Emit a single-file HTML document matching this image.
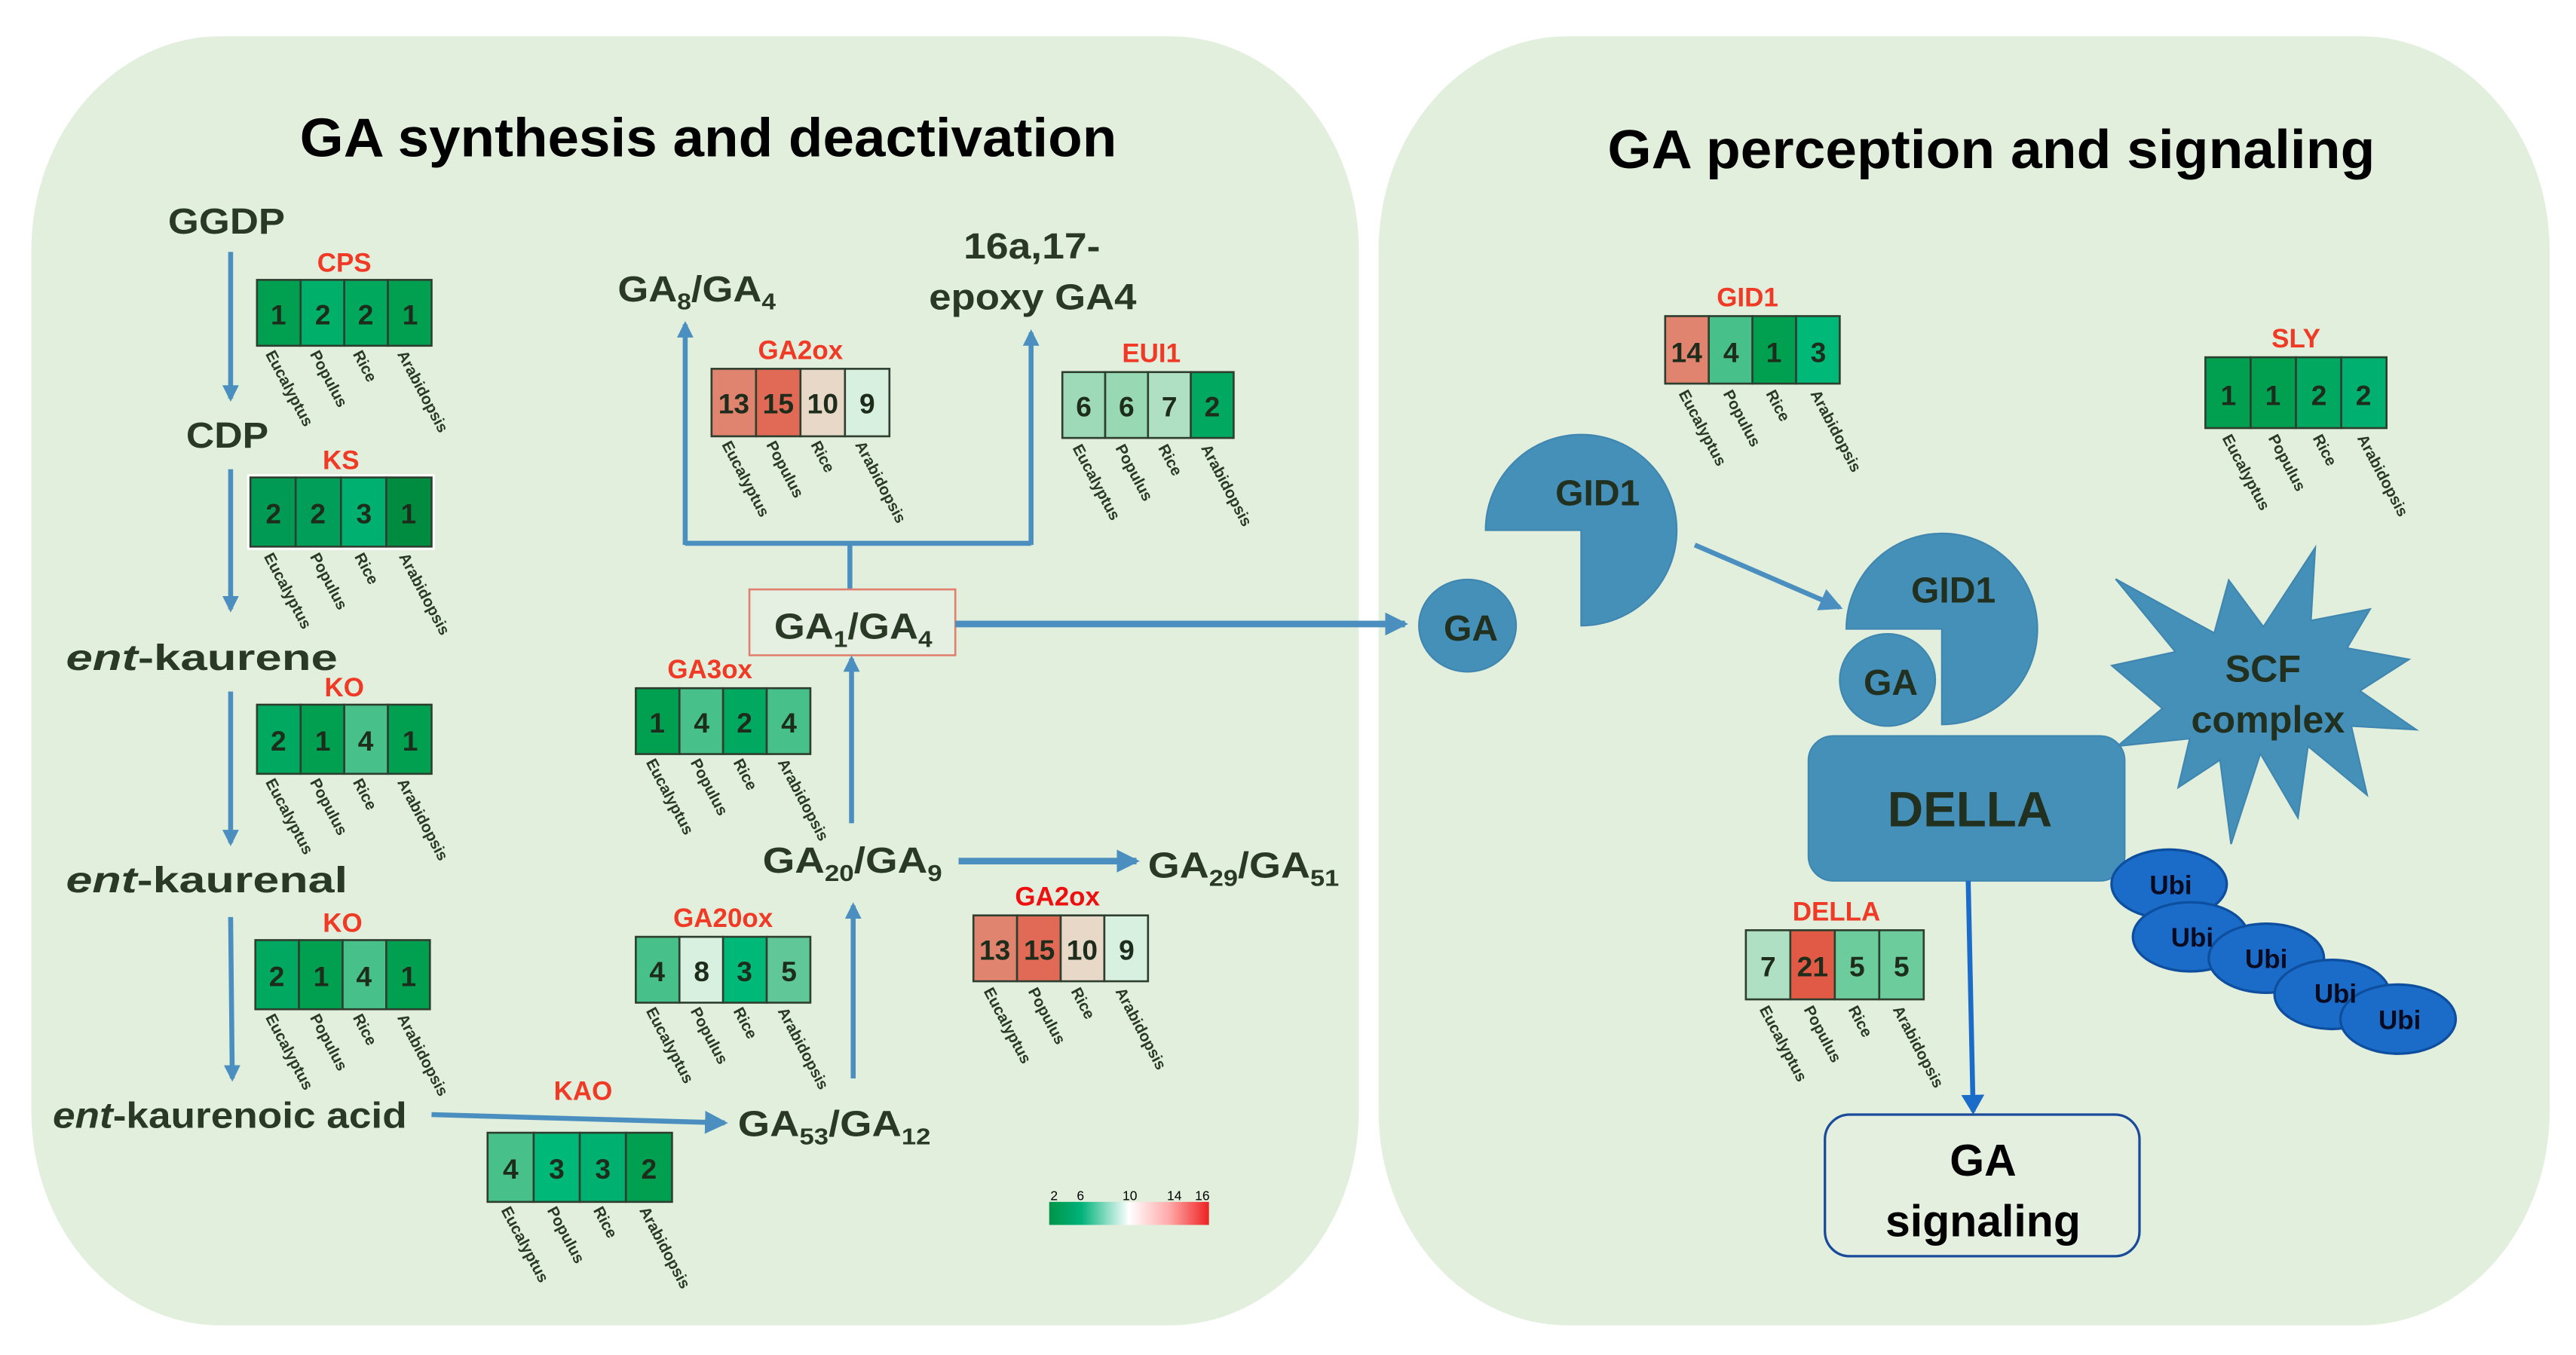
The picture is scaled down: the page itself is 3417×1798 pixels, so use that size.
<!DOCTYPE html>
<html><head><meta charset="utf-8"><style>
html,body{margin:0;padding:0;background:#fff}
svg{display:block}
text{font-family:"Liberation Sans",Arial,sans-serif}
.lbl{fill:#2a3826;font-size:22px;font-weight:bold}
.num{fill:#1e2c1c;font-size:17px;text-anchor:middle;font-weight:bold}
.sp{fill:#2a3826;font-size:9.5px;font-weight:bold}
.ttl{fill:#f03a26;font-size:16px;text-anchor:middle;font-weight:bold}
.cell{stroke:#2f3f2f;stroke-width:1.2}
.arr{stroke:#4a8fbf;stroke-width:3;fill:none}
.shape{fill:#4590b9;stroke:#3f86b0;stroke-width:1}
.stxt{fill:#22301f;font-weight:bold;text-anchor:middle}
</style></head><body>
<svg width="3417" height="1798" viewBox="0 0 1564 823" xmlns="http://www.w3.org/2000/svg">
<defs>
<marker id="ah" markerWidth="10" markerHeight="10" refX="8" refY="5" orient="auto" markerUnits="userSpaceOnUse"><path d="M0,0 L10,5 L0,10 Z" fill="#4a8fbf"/></marker>
<marker id="ah2" markerWidth="14" markerHeight="14" refX="12" refY="7" orient="auto" markerUnits="userSpaceOnUse"><path d="M0,0 L14,7 L0,14 Z" fill="#4a8fbf"/></marker>
<marker id="ahb" markerWidth="12" markerHeight="14" refX="10" refY="7" orient="auto" markerUnits="userSpaceOnUse"><path d="M0,0 L12,7 L0,14 Z" fill="#1a6cc8"/></marker>
<linearGradient id="lg" x1="0" x2="1" y1="0" y2="0">
<stop offset="0" stop-color="#009448"/><stop offset="0.2" stop-color="#00b27a"/><stop offset="0.5" stop-color="#ffffff"/><stop offset="0.75" stop-color="#ffaaaa"/><stop offset="1" stop-color="#ee2222"/></linearGradient>
</defs>

<rect x="19" y="22" width="806" height="783" rx="115" ry="130" fill="#e1efdc"/>
<rect x="837" y="22" width="711" height="783" rx="115" ry="130" fill="#e1efdc"/>

<text x="430" y="95" font-size="33" font-weight="bold" text-anchor="middle" fill="#000" textLength="496" lengthAdjust="spacingAndGlyphs">GA synthesis and deactivation</text>
<text x="1209" y="102" font-size="33" font-weight="bold" text-anchor="middle" fill="#000" textLength="466" lengthAdjust="spacingAndGlyphs">GA perception and signaling</text>

<text class="lbl" x="102" y="142" textLength="71" lengthAdjust="spacingAndGlyphs">GGDP</text>
<text class="lbl" x="113" y="272" textLength="50" lengthAdjust="spacingAndGlyphs">CDP</text>
<text class="lbl" x="40" y="407" textLength="165" lengthAdjust="spacingAndGlyphs"><tspan font-style="italic">ent</tspan>-kaurene</text>
<text class="lbl" x="40" y="542" textLength="171" lengthAdjust="spacingAndGlyphs"><tspan font-style="italic">ent</tspan>-kaurenal</text>
<text class="lbl" x="32" y="685" textLength="215" lengthAdjust="spacingAndGlyphs"><tspan font-style="italic">ent</tspan>-kaurenoic acid</text>

<line class="arr" x1="140" y1="153" x2="140" y2="242" marker-end="url(#ah)"/>
<line class="arr" x1="140" y1="285" x2="140" y2="370" marker-end="url(#ah)"/>
<line class="arr" x1="140" y1="420" x2="140" y2="512" marker-end="url(#ah)"/>
<line class="arr" x1="140" y1="557" x2="141" y2="655" marker-end="url(#ah)"/>
<line class="arr" x1="262" y1="677" x2="440" y2="682" stroke-width="4" marker-end="url(#ah2)"/>

<text class="lbl" x="375" y="183" textLength="96" lengthAdjust="spacingAndGlyphs">GA<tspan font-size="14" dy="5">8</tspan><tspan dy="-5">/GA</tspan><tspan font-size="14" dy="5">4</tspan></text>
<text class="lbl" x="585" y="157" textLength="83" lengthAdjust="spacingAndGlyphs">16a,17-</text>
<text class="lbl" x="564" y="188" textLength="126" lengthAdjust="spacingAndGlyphs">epoxy GA4</text>
<polyline class="arr" points="416,330 626,330"/>
<line class="arr" x1="416" y1="331" x2="416" y2="197" marker-end="url(#ah)"/>
<line class="arr" x1="626" y1="331" x2="626" y2="202" marker-end="url(#ah)"/>
<line class="arr" x1="516" y1="330" x2="516" y2="358"/>
<rect x="455" y="358" width="125" height="40" fill="#e6f0e2" stroke="#e08070" stroke-width="1.2"/>
<text class="lbl" x="470" y="388" textLength="96" lengthAdjust="spacingAndGlyphs">GA<tspan font-size="14" dy="5">1</tspan><tspan dy="-5">/GA</tspan><tspan font-size="14" dy="5">4</tspan></text>
<line x1="580" y1="379" x2="853" y2="379" stroke="#4a8fbf" stroke-width="4" marker-end="url(#ah2)"/>
<line class="arr" x1="517" y1="500" x2="517" y2="400" marker-end="url(#ah)"/>
<text class="lbl" x="463" y="530" textLength="109" lengthAdjust="spacingAndGlyphs">GA<tspan font-size="14" dy="5">20</tspan><tspan dy="-5">/GA</tspan><tspan font-size="14" dy="5">9</tspan></text>
<line x1="582" y1="523" x2="690" y2="523" stroke="#4a8fbf" stroke-width="4" marker-end="url(#ah2)"/>
<text class="lbl" x="697" y="533" textLength="116" lengthAdjust="spacingAndGlyphs">GA<tspan font-size="14" dy="5">29</tspan><tspan dy="-5">/GA</tspan><tspan font-size="14" dy="5">51</tspan></text>
<line class="arr" x1="518" y1="655" x2="518" y2="550" marker-end="url(#ah)"/>
<text class="lbl" x="448" y="690" textLength="117" lengthAdjust="spacingAndGlyphs">GA<tspan font-size="14" dy="5">53</tspan><tspan dy="-5">/GA</tspan><tspan font-size="14" dy="5">12</tspan></text>

<rect x="637" y="730" width="97" height="14" fill="url(#lg)"/>
<g font-size="8" fill="#000" text-anchor="middle">
<text x="640" y="729">2</text><text x="656" y="729">6</text><text x="686" y="729">10</text><text x="713" y="729">14</text><text x="730" y="729">16</text></g>

<g transform="translate(156,170)">
<text class="ttl" x="53" y="-5">CPS</text>
<rect class="cell" x="0" y="0" width="26.5" height="40" fill="#00a050"/><rect class="cell" x="26.5" y="0" width="26.5" height="40" fill="#00b06a"/><rect class="cell" x="53" y="0" width="26.5" height="40" fill="#00a85e"/><rect class="cell" x="79.5" y="0" width="26.5" height="40" fill="#00a050"/>
<text class="num" x="13" y="27">1</text><text class="num" x="40" y="27">2</text><text class="num" x="66" y="27">2</text><text class="num" x="93" y="27">1</text>
<text class="sp" transform="translate(5,45) rotate(62)">Eucalyptus</text><text class="sp" transform="translate(32,45) rotate(62)">Populus</text><text class="sp" transform="translate(58,45) rotate(62)">Rice</text><text class="sp" transform="translate(85,45) rotate(62)">Arabidopsis</text>
</g>
<g transform="translate(152,290)">
<text class="ttl" x="55" y="-5">KS</text>
<rect x="-2" y="-2" width="114" height="46" fill="#fff"/>
<rect class="cell" x="0" y="0" width="27.5" height="42" fill="#009a55"/><rect class="cell" x="27.5" y="0" width="27.5" height="42" fill="#009e58"/><rect class="cell" x="55" y="0" width="27.5" height="42" fill="#00b070"/><rect class="cell" x="82.5" y="0" width="27.5" height="42" fill="#008c40"/>
<text class="num" x="14" y="28">2</text><text class="num" x="41" y="28">2</text><text class="num" x="69" y="28">3</text><text class="num" x="96" y="28">1</text>
<text class="sp" transform="translate(8,48) rotate(62)">Eucalyptus</text><text class="sp" transform="translate(36,48) rotate(62)">Populus</text><text class="sp" transform="translate(63,48) rotate(62)">Rice</text><text class="sp" transform="translate(90,48) rotate(62)">Arabidopsis</text>
</g>
<g transform="translate(156,428)">
<text class="ttl" x="53" y="-5">KO</text>
<rect class="cell" x="0" y="0" width="26.5" height="42" fill="#00a860"/><rect class="cell" x="26.5" y="0" width="26.5" height="42" fill="#00a050"/><rect class="cell" x="53" y="0" width="26.5" height="42" fill="#48c08a"/><rect class="cell" x="79.5" y="0" width="26.5" height="42" fill="#00a050"/>
<text class="num" x="13" y="28">2</text><text class="num" x="40" y="28">1</text><text class="num" x="66" y="28">4</text><text class="num" x="93" y="28">1</text>
<text class="sp" transform="translate(5,47) rotate(62)">Eucalyptus</text><text class="sp" transform="translate(32,47) rotate(62)">Populus</text><text class="sp" transform="translate(58,47) rotate(62)">Rice</text><text class="sp" transform="translate(85,47) rotate(62)">Arabidopsis</text>
</g>
<g transform="translate(155,571)">
<text class="ttl" x="53" y="-5">KO</text>
<rect class="cell" x="0" y="0" width="26.5" height="42" fill="#00a860"/><rect class="cell" x="26.5" y="0" width="26.5" height="42" fill="#00a050"/><rect class="cell" x="53" y="0" width="26.5" height="42" fill="#48c08a"/><rect class="cell" x="79.5" y="0" width="26.5" height="42" fill="#00a050"/>
<text class="num" x="13" y="28">2</text><text class="num" x="40" y="28">1</text><text class="num" x="66" y="28">4</text><text class="num" x="93" y="28">1</text>
<text class="sp" transform="translate(6,47) rotate(62)">Eucalyptus</text><text class="sp" transform="translate(33,47) rotate(62)">Populus</text><text class="sp" transform="translate(59,47) rotate(62)">Rice</text><text class="sp" transform="translate(86,47) rotate(62)">Arabidopsis</text>
</g>
<g transform="translate(296,688)">
<text class="ttl" x="58" y="-20">KAO</text>
<rect class="cell" x="0" y="0" width="28" height="42" fill="#48c08a"/><rect class="cell" x="28" y="0" width="28" height="42" fill="#00b878"/><rect class="cell" x="56" y="0" width="28" height="42" fill="#00b070"/><rect class="cell" x="84" y="0" width="28" height="42" fill="#00a050"/>
<text class="num" x="14" y="28">4</text><text class="num" x="42" y="28">3</text><text class="num" x="70" y="28">3</text><text class="num" x="98" y="28">2</text>
<text class="sp" transform="translate(8,47) rotate(62)">Eucalyptus</text><text class="sp" transform="translate(36,47) rotate(62)">Populus</text><text class="sp" transform="translate(64,47) rotate(62)">Rice</text><text class="sp" transform="translate(92,47) rotate(62)">Arabidopsis</text>
</g>
<g transform="translate(386,569)">
<text class="ttl" x="53" y="-6">GA20ox</text>
<rect class="cell" x="0" y="0" width="26.5" height="40" fill="#48c08a"/><rect class="cell" x="26.5" y="0" width="26.5" height="40" fill="#d8f0e0"/><rect class="cell" x="53" y="0" width="26.5" height="40" fill="#00b878"/><rect class="cell" x="79.5" y="0" width="26.5" height="40" fill="#60c898"/>
<text class="num" x="13" y="27">4</text><text class="num" x="40" y="27">8</text><text class="num" x="66" y="27">3</text><text class="num" x="93" y="27">5</text>
<text class="sp" transform="translate(6,45) rotate(62)">Eucalyptus</text><text class="sp" transform="translate(33,45) rotate(62)">Populus</text><text class="sp" transform="translate(59,45) rotate(62)">Rice</text><text class="sp" transform="translate(86,45) rotate(62)">Arabidopsis</text>
</g>
<g transform="translate(386,418)">
<text class="ttl" x="45" y="-6">GA3ox</text>
<rect class="cell" x="0" y="0" width="26.5" height="40" fill="#00a050"/><rect class="cell" x="26.5" y="0" width="26.5" height="40" fill="#48c08a"/><rect class="cell" x="53" y="0" width="26.5" height="40" fill="#00a860"/><rect class="cell" x="79.5" y="0" width="26.5" height="40" fill="#48c08a"/>
<text class="num" x="13" y="27">1</text><text class="num" x="40" y="27">4</text><text class="num" x="66" y="27">2</text><text class="num" x="93" y="27">4</text>
<text class="sp" transform="translate(6,45) rotate(62)">Eucalyptus</text><text class="sp" transform="translate(33,45) rotate(62)">Populus</text><text class="sp" transform="translate(59,45) rotate(62)">Rice</text><text class="sp" transform="translate(86,45) rotate(62)">Arabidopsis</text>
</g>
<g transform="translate(432,224)">
<text class="ttl" x="54" y="-6">GA2ox</text>
<rect class="cell" x="0" y="0" width="27" height="41" fill="#e08470"/><rect class="cell" x="27" y="0" width="27" height="41" fill="#e06a55"/><rect class="cell" x="54" y="0" width="27" height="41" fill="#e8d8c8"/><rect class="cell" x="81" y="0" width="27" height="41" fill="#d8f0e0"/>
<text class="num" x="13.5" y="27">13</text><text class="num" x="40.5" y="27">15</text><text class="num" x="67.5" y="27">10</text><text class="num" x="94.5" y="27">9</text>
<text class="sp" transform="translate(6,46) rotate(62)">Eucalyptus</text><text class="sp" transform="translate(33,46) rotate(62)">Populus</text><text class="sp" transform="translate(60,46) rotate(62)">Rice</text><text class="sp" transform="translate(87,46) rotate(62)">Arabidopsis</text>
</g>
<g transform="translate(645,226)">
<text class="ttl" x="54" y="-6">EUI1</text>
<rect class="cell" x="0" y="0" width="26" height="40" fill="#9fdab8"/><rect class="cell" x="26" y="0" width="26" height="40" fill="#98d8b2"/><rect class="cell" x="52" y="0" width="26" height="40" fill="#b0e0c4"/><rect class="cell" x="78" y="0" width="26" height="40" fill="#00a860"/>
<text class="num" x="13" y="27">6</text><text class="num" x="39" y="27">6</text><text class="num" x="65" y="27">7</text><text class="num" x="91" y="27">2</text>
<text class="sp" transform="translate(6,46) rotate(62)">Eucalyptus</text><text class="sp" transform="translate(32,46) rotate(62)">Populus</text><text class="sp" transform="translate(58,46) rotate(62)">Rice</text><text class="sp" transform="translate(84,46) rotate(62)">Arabidopsis</text>
</g>
<g transform="translate(591,556)">
<text class="ttl" x="51" y="-6" style="fill:#ee1010;font-weight:bold">GA2ox</text>
<rect class="cell" x="0" y="0" width="26.5" height="40" fill="#e08470"/><rect class="cell" x="26.5" y="0" width="26.5" height="40" fill="#e06a55"/><rect class="cell" x="53" y="0" width="26.5" height="40" fill="#e8d8c8"/><rect class="cell" x="79.5" y="0" width="26.5" height="40" fill="#d8f0e0"/>
<text class="num" x="13" y="27">13</text><text class="num" x="40" y="27">15</text><text class="num" x="66" y="27">10</text><text class="num" x="93" y="27">9</text>
<text class="sp" transform="translate(6,46) rotate(62)">Eucalyptus</text><text class="sp" transform="translate(33,46) rotate(62)">Populus</text><text class="sp" transform="translate(59,46) rotate(62)">Rice</text><text class="sp" transform="translate(86,46) rotate(62)">Arabidopsis</text>
</g>
<g transform="translate(1011,192)">
<text class="ttl" x="50" y="-6">GID1</text>
<rect class="cell" x="0" y="0" width="26.5" height="41" fill="#e08470"/><rect class="cell" x="26.5" y="0" width="26.5" height="41" fill="#48c08a"/><rect class="cell" x="53" y="0" width="26.5" height="41" fill="#00a050"/><rect class="cell" x="79.5" y="0" width="26.5" height="41" fill="#00b878"/>
<text class="num" x="13" y="28">14</text><text class="num" x="40" y="28">4</text><text class="num" x="66" y="28">1</text><text class="num" x="93" y="28">3</text>
<text class="sp" transform="translate(8,47) rotate(62)">Eucalyptus</text><text class="sp" transform="translate(35,47) rotate(62)">Populus</text><text class="sp" transform="translate(61,47) rotate(62)">Rice</text><text class="sp" transform="translate(88,47) rotate(62)">Arabidopsis</text>
</g>
<g transform="translate(1339,217)">
<text class="ttl" x="55" y="-6">SLY</text>
<rect class="cell" x="0" y="0" width="27.5" height="43" fill="#00a050"/><rect class="cell" x="27.5" y="0" width="27.5" height="43" fill="#00a050"/><rect class="cell" x="55" y="0" width="27.5" height="43" fill="#00a860"/><rect class="cell" x="82.5" y="0" width="27.5" height="43" fill="#00b070"/>
<text class="num" x="14" y="29">1</text><text class="num" x="41" y="29">1</text><text class="num" x="69" y="29">2</text><text class="num" x="96" y="29">2</text>
<text class="sp" transform="translate(10,49) rotate(62)">Eucalyptus</text><text class="sp" transform="translate(38,49) rotate(62)">Populus</text><text class="sp" transform="translate(65,49) rotate(62)">Rice</text><text class="sp" transform="translate(92,49) rotate(62)">Arabidopsis</text>
</g>
<g transform="translate(1060,565)">
<text class="ttl" x="55" y="-6">DELLA</text>
<rect class="cell" x="0" y="0" width="27" height="42" fill="#b0e0c4"/><rect class="cell" x="27" y="0" width="27" height="42" fill="#e05a45"/><rect class="cell" x="54" y="0" width="27" height="42" fill="#6ccc9c"/><rect class="cell" x="81" y="0" width="27" height="42" fill="#6ccc9c"/>
<text class="num" x="13.5" y="28">7</text><text class="num" x="40.5" y="28">21</text><text class="num" x="67.5" y="28">5</text><text class="num" x="94.5" y="28">5</text>
<text class="sp" transform="translate(8,48) rotate(62)">Eucalyptus</text><text class="sp" transform="translate(35,48) rotate(62)">Populus</text><text class="sp" transform="translate(62,48) rotate(62)">Rice</text><text class="sp" transform="translate(89,48) rotate(62)">Arabidopsis</text>
</g>

<path class="shape" d="M960,322 L902,322 A58,58 0 1 1 960,380 Z"/>
<text class="stxt" x="970" y="307" font-size="22">GID1</text>
<ellipse class="shape" cx="891" cy="380" rx="29.5" ry="28"/>
<text class="stxt" x="893" y="389" font-size="22">GA</text>
<line class="arr" x1="1029" y1="331" x2="1117" y2="369" stroke-width="3.5" marker-end="url(#ah2)"/>
<path class="shape" d="M1179,382 L1121,382 A58,58 0 1 1 1179,440 Z"/>
<text class="stxt" x="1186" y="366" font-size="22">GID1</text>
<ellipse class="shape" cx="1146" cy="413" rx="29" ry="28"/>
<text class="stxt" x="1148" y="422" font-size="22">GA</text>
<polygon class="shape" points="1284.5,351.7 1344.4,384.5 1353.2,352.4 1374.2,380.7 1405.7,332.6 1403.1,376.9 1439,370 1425,393.6 1462.6,400.5 1432.8,419.6 1467,443.2 1427.6,441 1437.2,482.9 1401.3,453.2 1395.2,496.7 1372.4,457.7 1354.6,512.7 1347.9,461.6 1322.5,478.3 1329.5,448.6 1285.7,453.2 1312.9,430.3 1282.2,404.3 1320.8,395.9"/>
<rect class="shape" x="1098" y="447" width="192" height="88" rx="15"/>
<text class="stxt" x="1374" y="414" font-size="23">SCF</text>
<text class="stxt" x="1377" y="445" font-size="23">complex</text>
<text class="stxt" x="1196" y="502" font-size="30">DELLA</text>

<g fill="#1a6cc8" stroke="#0d4e9e" stroke-width="1.5">
<ellipse cx="1317" cy="537" rx="35" ry="21"/><ellipse cx="1330" cy="569" rx="35" ry="21"/><ellipse cx="1376" cy="582" rx="35" ry="21"/><ellipse cx="1416" cy="604" rx="35" ry="21"/><ellipse cx="1456" cy="619" rx="35" ry="21"/>
</g>
<g font-size="16" font-weight="bold" fill="#0a0a20" text-anchor="middle">
<text x="1318" y="543">Ubi</text><text x="1331" y="575">Ubi</text><text x="1376" y="588">Ubi</text><text x="1418" y="609">Ubi</text><text x="1457" y="625">Ubi</text></g>
<line x1="1195" y1="535" x2="1198" y2="675" stroke="#1a6cc8" stroke-width="3" marker-end="url(#ahb)"/>
<rect x="1108" y="677" width="191" height="86" rx="15" fill="#e4efe0" stroke="#1a4a9a" stroke-width="1.5"/>
<text x="1204" y="714" font-size="27" font-weight="bold" text-anchor="middle" fill="#000">GA</text>
<text x="1204" y="751" font-size="27" font-weight="bold" text-anchor="middle" fill="#000">signaling</text>
</svg>
</body></html>
